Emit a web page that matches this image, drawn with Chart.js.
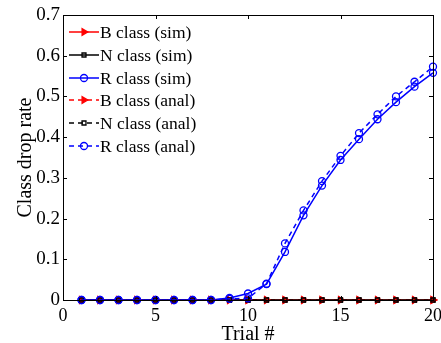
<!DOCTYPE html>
<html>
<head>
<meta charset="utf-8">
<script src="https://cdn.jsdelivr.net/npm/chart.js@4"></script>
<style>
  html, body { margin: 0; padding: 0; background: #fff; }
  #wrap { width: 441px; height: 343px; }
</style>
</head>
<body>
<div id="wrap"><canvas id="dropChart"></canvas></div>
<script>
var trials = [1, 2, 3, 4, 5, 6, 7, 8, 9, 10, 11, 12, 13, 14, 15, 16, 17, 18, 19, 20];
var bSim  = [0, 0, 0, 0, 0, 0, 0, 0, 0, 0, 0, 0, 0, 0, 0, 0, 0, 0, 0, 0];
var nSim  = [0, 0, 0, 0, 0, 0, 0, 0, 0, 0, 0, 0, 0, 0, 0, 0, 0, 0, 0, 0];
var rSim  = [0, 0, 0, 0, 0, 0, 0, 0, 0.005, 0.016, 0.039, 0.118, 0.208, 0.281, 0.344, 0.395, 0.444, 0.486, 0.524, 0.558];
var bAnal = [0, 0, 0, 0, 0, 0, 0, 0, 0, 0, 0, 0, 0, 0, 0, 0, 0, 0, 0, 0];
var nAnal = [0, 0, 0, 0, 0, 0, 0, 0, 0, 0, 0, 0, 0, 0, 0, 0, 0, 0, 0, 0];
var rAnal = [0, 0, 0, 0, 0, 0, 0, 0, 0.003, 0.004, 0.04, 0.139, 0.22, 0.292, 0.354, 0.41, 0.456, 0.5, 0.536, 0.573];
var xTicks = [0, 5, 10, 15, 20];
var yTicks = [0, 0.1, 0.2, 0.3, 0.4, 0.5, 0.6, 0.7];

var serif = '"Liberation Serif", "Times New Roman", serif';

function pts(vals) {
  return vals.map(function(v, i) { return { x: trials[i], y: v }; });
}

function series(label, vals, color, style, dashed, order) {
  return {
    label: label,
    data: pts(vals),
    borderColor: color,
    backgroundColor: 'rgba(0,0,0,0)',
    borderWidth: 1.5,
    borderDash: dashed ? [5, 4] : [],
    pointStyle: style,
    pointRotation: style === 'triangle' ? 90 : 0,
    pointRadius: style === 'circle' ? 3.5 : (style === 'triangle' ? 3.8 : 2.8),
    pointBorderColor: color,
    pointBackgroundColor: style === 'triangle' ? color : 'rgba(0,0,0,0)',
    pointBorderWidth: 1.3,
    tension: 0,
    clip: false,
    order: order
  };
}

// box, inward ticks and in-plot legend, matlab style
var matlabFrame = {
  id: 'matlabFrame',
  afterDraw: function(chart) {
    var ctx = chart.ctx, a = chart.chartArea;
    var xs = chart.scales.x, ys = chart.scales.y;
    ctx.save();
    ctx.strokeStyle = '#000';
    ctx.lineWidth = 1;
    ctx.setLineDash([]);
    ctx.strokeRect(a.left + 0.5, a.top + 0.5, a.right - a.left, a.bottom - a.top);
    ctx.beginPath();
    xTicks.forEach(function(t) {
      var px = Math.round(xs.getPixelForValue(t)) + 0.5;
      ctx.moveTo(px, a.bottom); ctx.lineTo(px, a.bottom - 4);
      ctx.moveTo(px, a.top); ctx.lineTo(px, a.top + 4);
    });
    yTicks.forEach(function(t) {
      var py = Math.round(ys.getPixelForValue(t)) + 0.5;
      ctx.moveTo(a.left, py); ctx.lineTo(a.left + 4, py);
      ctx.moveTo(a.right, py); ctx.lineTo(a.right - 4, py);
    });
    ctx.stroke();

    // legend
    var rowsY = [32, 55, 78, 100, 123, 146];
    var x0 = a.left + 6, x1 = a.left + 36;
    ctx.font = '17.5px ' + serif;
    ctx.textBaseline = 'middle';
    chart.data.datasets.forEach(function(ds, i) {
      var y = rowsY[i];
      ctx.strokeStyle = ds.borderColor;
      ctx.lineWidth = 1.5;
      ctx.setLineDash(ds.borderDash);
      ctx.beginPath();
      ctx.moveTo(x0, y); ctx.lineTo(x1, y);
      ctx.stroke();
      ctx.setLineDash([]);
      ctx.fillStyle = ds.pointBackgroundColor;
      ctx.strokeStyle = ds.pointBorderColor;
      ctx.lineWidth = ds.pointBorderWidth;
      Chart.helpers.drawPoint(ctx, {
        pointStyle: ds.pointStyle,
        rotation: ds.pointRotation,
        radius: ds.pointRadius,
        borderWidth: ds.pointBorderWidth
      }, (x0 + x1) / 2, y);
      ctx.fillStyle = '#000';
      ctx.fillText(ds.label, x1 + 1, y + 1);
    });
    ctx.restore();
  }
};

new Chart(document.getElementById('dropChart'), {
  type: 'line',
  data: {
    datasets: [
      series('B class (sim)', bSim, '#ff0000', 'triangle', false, 6),
      series('N class (sim)', nSim, '#000000', 'rect', false, 5),
      series('R class (sim)', rSim, '#0000ff', 'circle', false, 4),
      series('B class (anal)', bAnal, '#ff0000', 'triangle', true, 3),
      series('N class (anal)', nAnal, '#000000', 'rect', true, 2),
      series('R class (anal)', rAnal, '#0000ff', 'circle', true, 1)
    ]
  },
  options: {
    responsive: true,
    maintainAspectRatio: false,
    animation: false,
    layout: { padding: { top: 15, right: 8, left: 0, bottom: 0 } },
    plugins: { legend: { display: false }, tooltip: { enabled: false } },
    scales: {
      x: {
        type: 'linear',
        min: 0, max: 20,
        afterBuildTicks: function(s) { s.ticks = xTicks.map(function(v) { return { value: v }; }); },
        grid: { display: false },
        border: { display: false },
        ticks: { color: '#000', font: { family: serif, size: 18 }, padding: -3, maxRotation: 0 },
        title: { display: true, text: 'Trial #', color: '#000', font: { family: serif, size: 20 }, padding: { top: 0, bottom: -4 } },
        afterFit: function(s) { s.height = 43; }
      },
      y: {
        min: 0, max: 0.7,
        afterBuildTicks: function(s) { s.ticks = yTicks.map(function(v) { return { value: v }; }); },
        grid: { display: false },
        border: { display: false },
        ticks: { color: '#000', font: { family: serif, size: 19 }, padding: -5 },
        title: { display: true, text: 'Class drop rate', color: '#000', font: { family: serif, size: 20 }, padding: { top: 14, bottom: 0 } },
        afterFit: function(s) { s.width = 63; }
      }
    }
  },
  plugins: [matlabFrame]
});
</script>
</body>
</html>
